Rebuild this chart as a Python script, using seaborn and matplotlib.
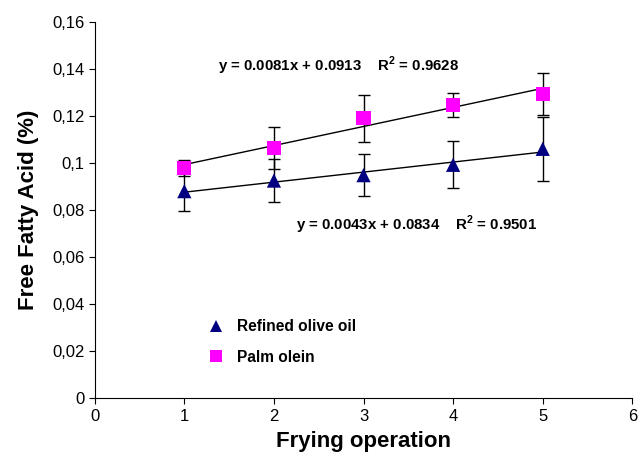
import numpy as np
import pandas as pd
import matplotlib
matplotlib.use("Agg")
import matplotlib.pyplot as plt
import seaborn as sns

# =====================================================
# DATA
# =====================================================

operations = [1, 2, 3, 4, 5]

olive_ffa = [0.0880, 0.0925, 0.0948, 0.0992, 0.1060]
olive_err = [0.0085, 0.0090, 0.0090, 0.0100, 0.0137]

palm_ffa = [0.0980, 0.1064, 0.1190, 0.1247, 0.1294]
palm_err = [0.0034, 0.0090, 0.0100, 0.0050, 0.0090]

x_ticks = [0, 1, 2, 3, 4, 5, 6]
y_ticks = [0, 0.02, 0.04, 0.06, 0.08, 0.10, 0.12, 0.14, 0.16]
y_tick_labels = ["0", "0,02", "0,04", "0,06", "0,08", "0,1", "0,12", "0,14", "0,16"]

olive_eq = "y = 0.0043x + 0.0834    R$^\\mathbf{2}$ = 0.9501"
palm_eq = "y = 0.0081x + 0.0913    R$^\\mathbf{2}$ = 0.9628"

df = pd.DataFrame({
    "op": operations * 2,
    "ffa": olive_ffa + palm_ffa,
    "err": olive_err + palm_err,
    "oil": ["Refined olive oil"] * 5 + ["Palm olein"] * 5,
})

# =====================================================
# PLOT
# =====================================================

sns.set_style("ticks")
plt.rcParams["font.family"] = ["Liberation Sans", "DejaVu Sans"]
plt.rcParams["text.color"] = "black"
plt.rcParams["axes.labelcolor"] = "black"
plt.rcParams["mathtext.fontset"] = "custom"
plt.rcParams["mathtext.bf"] = "Liberation Sans:bold"
plt.rcParams["mathtext.rm"] = "Liberation Sans"

fig = plt.figure(figsize=(6.4, 4.54), dpi=100)
ax = fig.add_axes([0.148, 0.123, 0.84, 0.829])

for oil in ["Refined olive oil", "Palm olein"]:
    sub = df[df["oil"] == oil]
    ax.errorbar(
        sub["op"], sub["ffa"], yerr=sub["err"],
        fmt="none", ecolor="black", elinewidth=1,
        capsize=4.5, capthick=1, zorder=2
    )
    sns.regplot(
        data=sub, x="op", y="ffa", ax=ax,
        scatter=False, ci=None, color="black",
        line_kws={"linewidth": 1, "zorder": 3}
    )

sns.scatterplot(
    data=df, x="op", y="ffa", hue="oil", style="oil", ax=ax,
    palette={"Refined olive oil": "#000080", "Palm olein": "#FF00FF"},
    markers={"Refined olive oil": "^", "Palm olein": "s"},
    s=105, linewidth=0, zorder=4
)

ax.text(2.72, 0.1413, palm_eq, ha="center", va="center",
        fontsize=10.8, fontweight="bold")
ax.text(3.59, 0.0736, olive_eq, ha="center", va="center",
        fontsize=10.8, fontweight="bold")

ax.set_xlim(0, 6)
ax.set_ylim(0, 0.16)
ax.set_xticks(x_ticks)
ax.set_yticks(y_ticks)
ax.set_yticklabels(y_tick_labels)
ax.tick_params(labelsize=12, length=4, width=0.8, colors="black")

ax.set_xlabel("Frying operation", fontsize=16, fontweight="bold", labelpad=5)
ax.set_ylabel("Free Fatty Acid (%)", fontsize=16, fontweight="bold", labelpad=9)

sns.despine(ax=ax)
for sp in ["left", "bottom"]:
    ax.spines[sp].set_linewidth(0.8)
    ax.spines[sp].set_color("black")

leg = ax.legend(
    loc="lower left", bbox_to_anchor=(0.17, 0.052),
    frameon=False, fontsize=11.2, handletextpad=0.4,
    labelspacing=1.0, markerscale=0.85
)
for t in leg.get_texts():
    t.set_fontweight("bold")

fig.savefig("out.png", dpi=100)
